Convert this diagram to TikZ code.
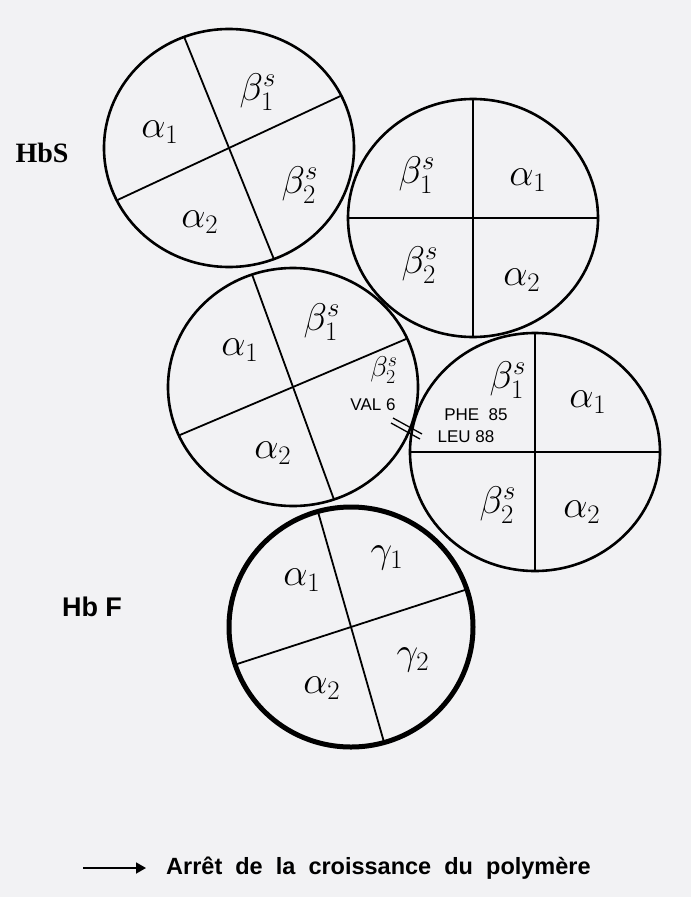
\documentclass[tikz,border=0pt]{standalone}
\usepackage{fontspec}
\setsansfont{Liberation Sans}
\newfontfamily\hbserif{Liberation Serif}
\usetikzlibrary{shapes.geometric, arrows.meta}
\definecolor{bg}{RGB}{242,242,244}
\newcommand{\hwbig}[1]{\scalebox{1.55}{$#1$}}
\newcommand{\hwsmall}[1]{\scalebox{1.15}{$#1$}}
\begin{document}
\begin{tikzpicture}[x=1pt,y=-1pt,
  cell/.style={draw, ellipse, line width=2.6pt, minimum width=250pt, minimum height=238pt, inner sep=0pt, outer sep=0pt},
  thickcell/.style={cell, line width=5pt, minimum width=244pt, minimum height=240pt},
  divider/.style={line width=1.8pt},
  greek/.style={font=\fontsize{24}{26}\selectfont, inner sep=0pt},
  smalllabel/.style={font=\sffamily\fontsize{17}{18}\selectfont, inner sep=0pt},
  sidelabel/.style={font=\sffamily\bfseries\fontsize{27}{30}\selectfont, inner sep=0pt},
  seriflabel/.style={font=\hbserif\bfseries\fontsize{28}{30}\selectfont, inner sep=0pt},
  caption/.style={font=\sffamily\bfseries\fontsize{23.5}{26}\selectfont, inner sep=0pt, anchor=west}]
\useasboundingbox (0,0) rectangle (691,897);
\fill[bg] (0,0) rectangle (691,897);

% hemoglobin tetramers
\node[cell] (c1) at (229,148) {};
\node[cell] (c2) at (473,218) {};
\node[cell] (c3) at (293,387) {};
\node[cell] (c4) at (535,452) {};
\node[thickcell] (c5) at (351,627) {};

% subunit dividers
\draw[divider] (c1.112) -- (c1.292);
\draw[divider] (c1.25) -- (c1.205);
\draw[divider] (c2.north) -- (c2.south);
\draw[divider] (c2.west) -- (c2.east);
\draw[divider] (c3.110) -- (c3.290);
\draw[divider] (c3.23) -- (c3.203);
\draw[divider] (c4.north) -- (c4.south);
\draw[divider] (c4.west) -- (c4.east);
\draw[divider] (c5.106) -- (c5.286);
\draw[divider] (c5.18) -- (c5.198);

% circle 1
\node[greek] (a11) at (160,132) {\hwbig{\alpha_1}};
\node[greek] (b11) at (258,92) {\hwbig{\beta^{s}_{1}}};
\node[greek] (b12) at (300,185) {\hwbig{\beta^{s}_{2}}};
\node[greek] (a12) at (200,222) {\hwbig{\alpha_2}};
% circle 2
\node[greek] (b21) at (417,175) {\hwbig{\beta^{s}_{1}}};
\node[greek] (a21) at (528,180) {\hwbig{\alpha_1}};
\node[greek] (b22) at (420,265) {\hwbig{\beta^{s}_{2}}};
\node[greek] (a22) at (522,280) {\hwbig{\alpha_2}};
% circle 3
\node[greek] (a31) at (240,350) {\hwbig{\alpha_1}};
\node[greek] (b31) at (322,322) {\hwbig{\beta^{s}_{1}}};
\node[greek] (b32) at (384,370) {\hwsmall{\beta^{s}_{2}}};
\node[smalllabel] (val) at (373,405) {VAL 6};
\node[greek] (a32) at (273,453) {\hwbig{\alpha_2}};
% circle 4
\node[greek] (b41) at (508,380) {\hwbig{\beta^{s}_{1}}};
\node[greek] (a41) at (588,402) {\hwbig{\alpha_1}};
\node[smalllabel] (phe) at (476,415) {PHE\ \ 85};
\node[smalllabel] (leu) at (466,437) {LEU 88};
\node[greek] (b42) at (498,505) {\hwbig{\beta^{s}_{2}}};
\node[greek] (a42) at (582,512) {\hwbig{\alpha_2}};
% circle 5 (HbF)
\node[greek] (a51) at (302,580) {\hwbig{\alpha_1}};
\node[greek] (g51) at (387,558) {\hwbig{\gamma_1}};
\node[greek] (a52) at (322,688) {\hwbig{\alpha_2}};
\node[greek] (g52) at (413,660) {\hwbig{\gamma_2}};

% contact marks between VAL 6 and PHE 85 / LEU 88
\coordinate (m1a) at (393,418);
\coordinate (m1b) at (422,434);
\coordinate (m2a) at (391,423);
\coordinate (m2b) at (420,439);
\draw[line width=1.3pt] (m1a) -- (m1b);
\draw[line width=1.3pt] (m2a) -- (m2b);

% side labels
\node[seriflabel] (hbs) at (42,153) {HbS};
\node[sidelabel] (hbf) at (92,607) {Hb F};

% legend
\coordinate (arrS) at (83,868);
\coordinate (arrE) at (146,868);
\draw[line width=1.8pt, -{Triangle[length=10pt, width=11pt]}] (arrS) -- (arrE);
\node[caption] (cap) at (166,868) {Arr\^et\ \ de\ \ la\ \ croissance\ \ du\ \ polym\`ere};
\end{tikzpicture}
\end{document}
